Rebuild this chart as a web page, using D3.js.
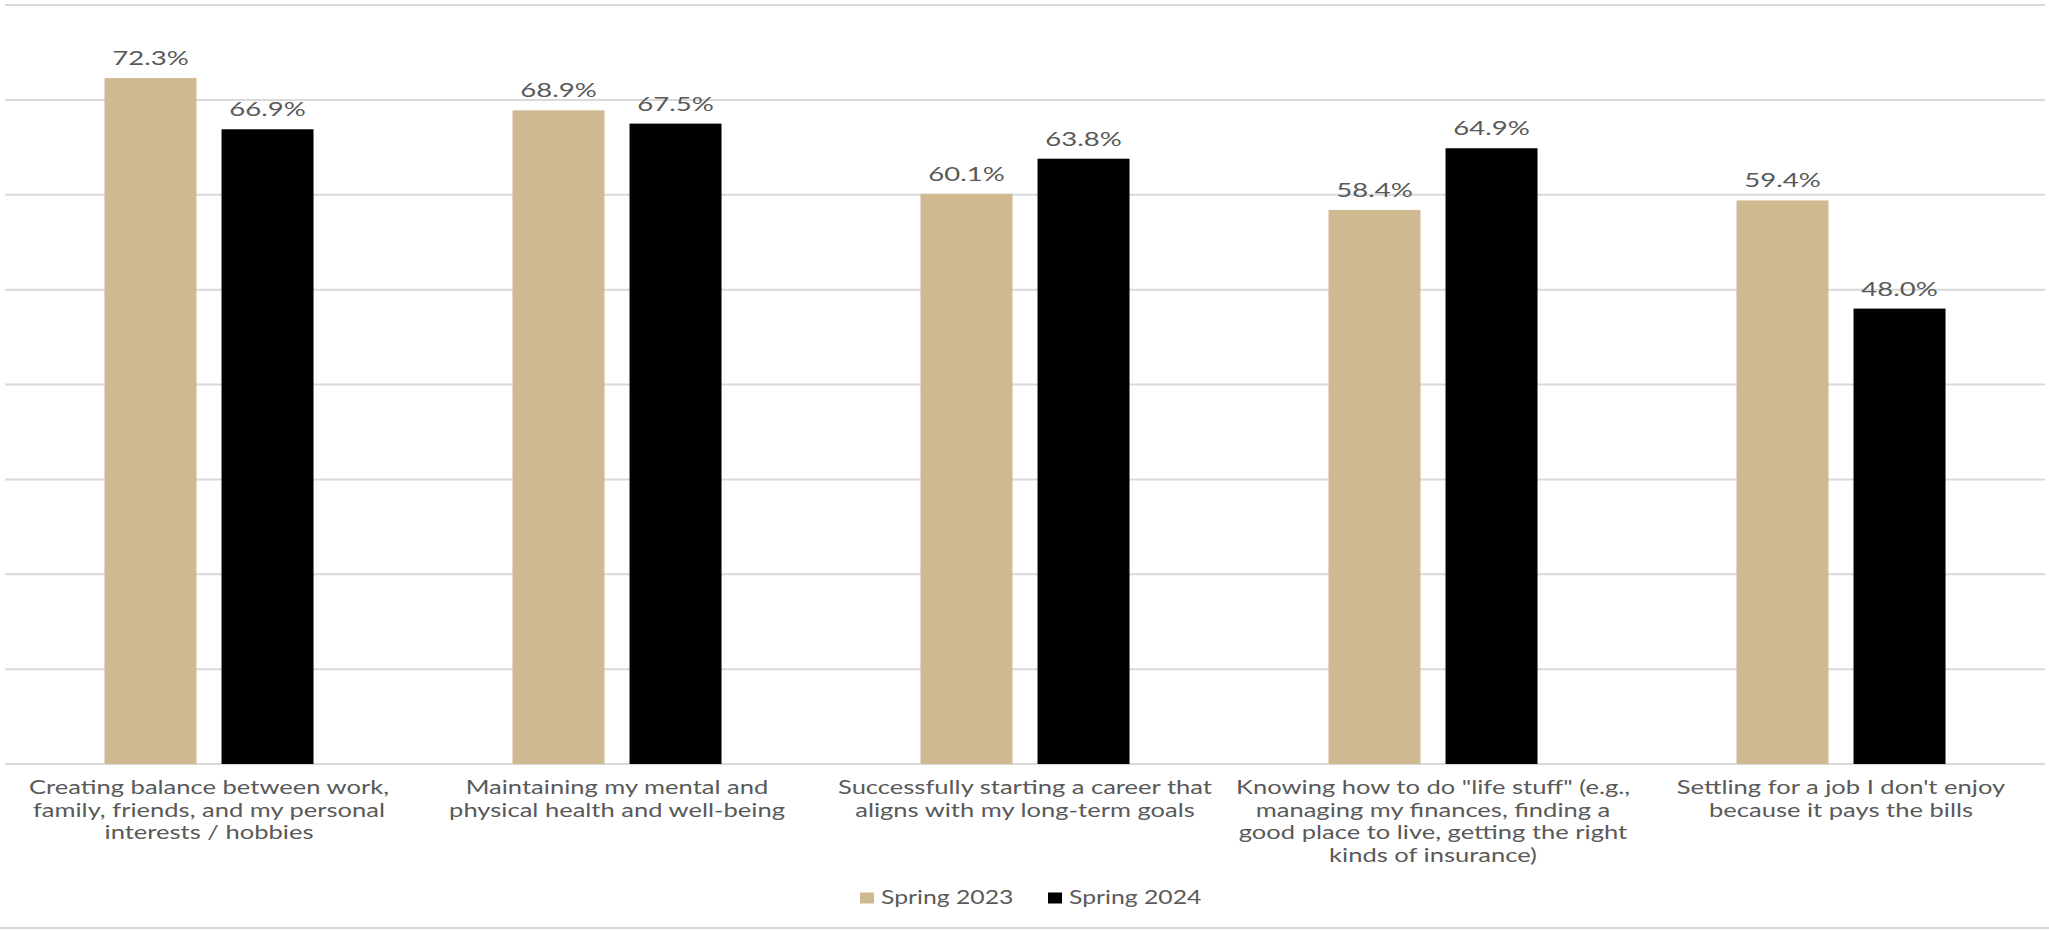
<!DOCTYPE html>
<html>
<head>
<meta charset="utf-8">
<script src="https://cdn.jsdelivr.net/npm/d3@7"></script>
<style>
  html, body { margin: 0; padding: 0; background: #fff; }
  svg { display: block; }
  text { font-family: Lato, "Open Sans", sans-serif; fill: #595959; }
</style>
</head>
<body>
<svg id="chart" width="2049" height="930"></svg>
<script>
const categories = [
  ["Creating balance between work,", "family, friends, and my personal", "interests / hobbies"],
  ["Maintaining my mental and", "physical health and well-being"],
  ["Successfully starting a career that", "aligns with my long-term goals"],
  ["Knowing how to do \"life stuff\" (e.g.,", "managing my finances, finding a", "good place to live, getting the right", "kinds of insurance)"],
  ["Settling for a job I don't enjoy", "because it pays the bills"]
];
const seriesNames = ["Spring 2023", "Spring 2024"];
const spring2023 = [72.3, 68.9, 60.1, 58.4, 59.4];
const spring2024 = [66.9, 67.5, 63.8, 64.9, 48.0];
const gridTicks = [0, 10, 20, 30, 40, 50, 60, 70, 80];
const colors = ["#CFB991", "#000000"];

const svg = d3.select("#chart");
const W = 2049, H = 930;
const mLeft = 5, mRight = 2045, mTop = 5, mBottom = 764;
const SX_VAL = 1.45, SX_CAT = 1.31, SX_LEG = 1.27;

const idx = categories.map((d, i) => i);
const x0 = d3.scaleBand().domain(idx).range([mLeft, mRight]).paddingInner(0.4877).paddingOuter(0.24385);
const x1 = d3.scaleBand().domain([0, 1]).range([0, x0.bandwidth()]).paddingInner(0.214);
const y = d3.scaleLinear().domain([0, 80]).range([mBottom, mTop]);

// gridlines
svg.append("g").selectAll("line").data(gridTicks).join("line")
  .attr("x1", mLeft).attr("x2", mRight)
  .attr("y1", d => y(d)).attr("y2", d => y(d))
  .attr("stroke", "#d9d9d9").attr("stroke-width", 2);

// bars
const series = [spring2023, spring2024];
const groups = svg.append("g").selectAll("g").data(idx).join("g")
  .attr("transform", i => `translate(${x0(i)},0)`);
groups.selectAll("rect").data(i => series.map((s, k) => ({k, v: s[i]}))).join("rect")
  .attr("x", d => x1(d.k)).attr("width", x1.bandwidth())
  .attr("y", d => y(d.v)).attr("height", d => y(0) - y(d.v))
  .attr("fill", d => colors[d.k]);
groups.selectAll("text.val").data(i => series.map((s, k) => ({k, v: s[i]}))).join("text")
  .attr("class", "val")
  .attr("transform", d => `translate(${x1(d.k) + x1.bandwidth() / 2},${y(d.v) - 13}) scale(${SX_VAL},1)`)
  .attr("text-anchor", "middle")
  .style("font-size", "19px")
  .text(d => d.v.toFixed(1) + "%");

// category labels
const lab = svg.append("g").selectAll("text").data(idx).join("text")
  .attr("transform", i => `translate(${x0(i) + x0.bandwidth() / 2},794) scale(${SX_CAT},1)`)
  .attr("text-anchor", "middle")
  .style("font-size", "19.5px");
lab.selectAll("tspan").data(i => categories[i]).join("tspan")
  .attr("x", 0).attr("dy", (d, j) => j === 0 ? 0 : 22.7)
  .text(d => d);

// legend
const leg = svg.append("g").attr("transform", "translate(860,898)");
const legX = [0, 188];
seriesNames.forEach((n, k) => {
  const g = leg.append("g").attr("transform", `translate(${legX[k]},0)`);
  g.append("rect").attr("x", 0).attr("y", -5.5).attr("width", 14).attr("height", 11).attr("fill", colors[k]);
  g.append("text").attr("transform", `translate(21,6) scale(${SX_LEG},1)`).style("font-size", "19.5px").text(n);
});

// bottom border
svg.append("line").attr("x1", 0).attr("x2", W).attr("y1", 928).attr("y2", 928)
  .attr("stroke", "#d9d9d9").attr("stroke-width", 2);
</script>
</body>
</html>
